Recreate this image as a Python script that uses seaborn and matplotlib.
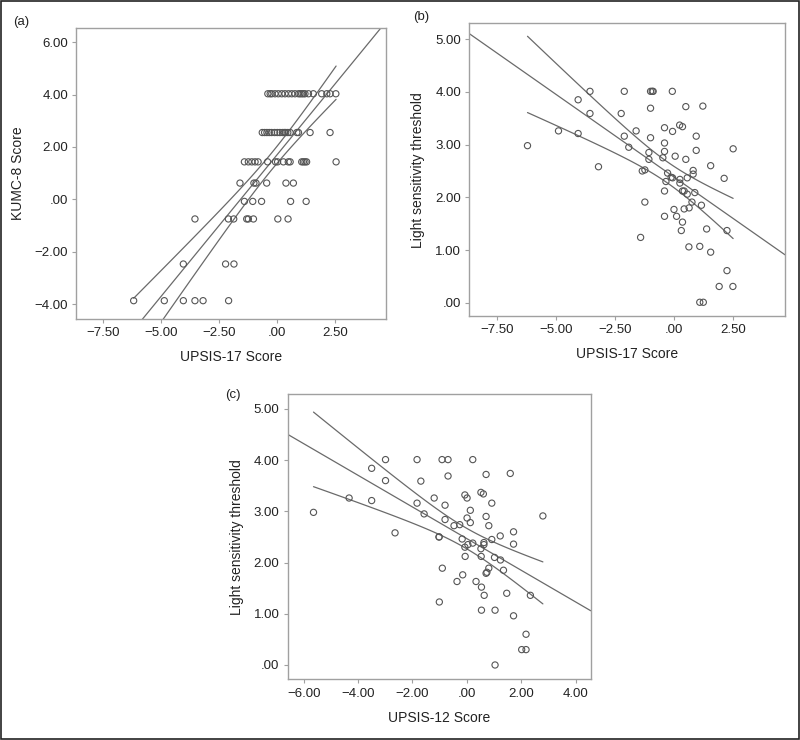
import numpy as np
import pandas as pd
import matplotlib
matplotlib.use("Agg")
import matplotlib.pyplot as plt
import seaborn as sns

# ---------------- data ----------------
# panel (a): UPSIS-17 vs KUMC-8
a_x_400 = [-0.41, -0.31, -0.24, -0.10, 0.04, 0.19, 0.33, 0.48, 0.62, 0.76, 0.91,
           0.98, 1.05, 1.12, 1.19, 1.34, 1.55, 1.91, 2.13, 2.27, 2.52]
a_x_255 = [-0.65, -0.55, -0.45, -0.35, -0.25, -0.12, 0.00, 0.11, 0.22, 0.30, 0.36,
           0.45, 0.55, 0.84, 0.91, 1.41, 2.27]
a_x_143 = [-1.42, -1.25, -1.10, -0.96, -0.83, -0.42, -0.08, 0.01, 0.26, 0.47, 0.55,
           1.05, 1.12, 1.19, 1.26, 2.53]
a_x_062 = [-1.61, -1.01, -0.92, -0.46, 0.37, 0.69]
a_x_m008 = [-1.42, -1.06, -0.68, 0.57, 1.24]
a_x_m075 = [-3.55, -2.11, -1.88, -1.32, -1.25, -1.03, 0.02, 0.46]
a_x_m247 = [-4.05, -2.23, -1.87]
a_x_m387 = [-6.19, -4.87, -4.05, -3.55, -3.20, -2.10]
kumc_levels = [4.03, 2.55, 1.43, 0.62, -0.08, -0.75, -2.47, -3.87]

# panel (b): UPSIS-17 vs light sensitivity threshold
b_x = [-6.20, -4.89, -4.06, -4.06, -3.56, -3.56, -3.20, -2.24, -2.11, -2.11, -1.92,
       -1.61, -1.42, -1.35, -1.24, -1.24, -1.07, -1.07, -1.00, -0.93, -0.89, -1.00,
       -1.00, -0.48, -0.41, -0.41, -0.41, -0.41, -0.41, -0.35, -0.28, -0.13, -0.08,
       -0.07, -0.07, -0.01, 0.04, 0.10, 0.23, 0.24, 0.24, 0.30, 0.35, 0.35, 0.35,
       0.42, 0.42, 0.49, 0.49, 0.55, 0.55, 0.62, 0.63, 0.75, 0.80, 0.80, 0.87, 0.93,
       0.93, 1.08, 1.23, 1.08, 1.15, 1.21, 1.37, 1.54, 1.54, 1.90, 2.11, 2.23, 2.23,
       2.48, 2.49]
b_y = [2.98, 3.26, 3.85, 3.21, 4.01, 3.59, 2.58, 3.59, 4.01, 3.16, 2.95,
       3.26, 1.24, 2.50, 2.52, 1.91, 2.85, 2.72, 4.01, 4.01, 4.01, 3.69,
       3.13, 2.75, 3.32, 3.03, 2.87, 2.12, 1.64, 2.30, 2.46, 2.38, 4.01,
       3.25, 2.37, 1.77, 2.78, 1.64, 3.37, 2.34, 2.27, 1.37, 3.34, 2.12, 1.53,
       2.12, 1.78, 3.72, 2.72, 2.37, 2.06, 1.06, 1.80, 1.91, 2.51, 2.44, 2.09, 3.16,
       2.89, 0.01, 0.01, 1.07, 1.85, 3.73, 1.40, 2.60, 0.96, 0.31, 2.36, 1.37, 0.61,
       0.31, 2.92]

# panel (c): UPSIS-12 vs light sensitivity threshold
c_x = [-5.64, -4.33, -3.50, -3.50, -2.99, -2.99, -2.64, -1.83, -1.83, -1.69, -1.57,
       -1.20, -1.02, -1.02, -1.01, -0.91, -0.90, -0.80, -0.80, -0.69, -0.69, -0.47,
       -0.36, -0.26, -0.17, -0.15, -0.07, -0.07, -0.06, 0.01, 0.01, 0.04, 0.13, 0.13,
       0.22, 0.22, 0.34, 0.52, 0.52, 0.53, 0.54, 0.54, 0.61, 0.63, 0.63, 0.64, 0.71,
       0.71, 0.71, 0.74, 0.81, 0.81, 0.92, 0.92, 1.02, 1.04, 1.04, 1.23, 1.24, 1.35,
       1.47, 1.60, 1.72, 1.72, 1.72, 2.02, 2.18, 2.18, 2.34, 2.80]
c_y = [2.98, 3.26, 3.84, 3.21, 4.01, 3.60, 2.58, 4.01, 3.16, 3.59, 2.95,
       3.26, 2.50, 2.50, 1.23, 4.01, 1.89, 3.12, 2.84, 4.01, 3.69, 2.72,
       1.63, 2.74, 2.46, 1.76, 3.32, 2.30, 2.12, 3.26, 2.87, 2.35, 3.02, 2.78,
       4.01, 2.38, 1.63, 3.37, 2.27, 2.12, 1.07, 1.52, 3.34, 2.39, 2.35, 1.36, 3.72,
       2.90, 1.79, 1.81, 2.72, 1.89, 3.16, 2.45, 2.10, 1.07, 0.00, 2.52, 2.05, 1.85,
       1.40, 3.74, 2.60, 2.36, 0.96, 0.30, 0.60, 0.30, 1.36, 2.91]

# tick labels
a_xticks = [-7.5, -5.0, -2.5, 0.0, 2.5]
a_xticklabels = ["\u22127.50", "\u22125.00", "\u22122.50", ".00", "2.50"]
a_yticks = [-4, -2, 0, 2, 4, 6]
a_yticklabels = ["\u22124.00", "\u22122.00", ".00", "2.00", "4.00", "6.00"]
b_yticks = [0, 1, 2, 3, 4, 5]
b_yticklabels = [".00", "1.00", "2.00", "3.00", "4.00", "5.00"]
c_xticks = [-6, -4, -2, 0, 2, 4]
c_xticklabels = ["\u22126.00", "\u22124.00", "\u22122.00", ".00", "2.00", "4.00"]

# ---------------- styling ----------------
sns.set_theme(style="white")
plt.rcParams["font.family"] = ["Liberation Sans", "DejaVu Sans"]
plt.rcParams["axes.unicode_minus"] = True

GRAY_LINE = "#6a6a6a"
GRAY_FRAME = "#a0a0a0"
PT_EDGE = "#555555"
TXT = "#222222"

fig = plt.figure(figsize=(8.0, 7.4), dpi=100)
fig.patch.set_facecolor("white")

rects = {
    "a": [0.0954, 0.5689, 0.3871, 0.3936],
    "b": [0.5866, 0.5730, 0.3946, 0.3955],
    "c": [0.3596, 0.0820, 0.3788, 0.3855],
}
ax_a = fig.add_axes(rects["a"])
ax_b = fig.add_axes(rects["b"])
ax_c = fig.add_axes(rects["c"])


def fit_lines(ax, x, y, xlim):
    """OLS fit line over the whole axis plus 95% mean-CI curves over the data range."""
    x = np.asarray(x, float); y = np.asarray(y, float)
    n = len(x)
    b, a = np.polyfit(x, y, 1)
    res = y - (a + b * x)
    s = np.sqrt(np.sum(res ** 2) / (n - 2))
    xm = x.mean(); sxx = np.sum((x - xm) ** 2)
    t = 1.995
    xs = np.linspace(x.min(), x.max(), 60)
    se = s * np.sqrt(1.0 / n + (xs - xm) ** 2 / sxx)
    yh = a + b * xs
    xf = np.array(xlim)
    kw = dict(ax=ax, color=GRAY_LINE, lw=0.9, estimator=None, sort=False)
    sns.lineplot(x=xf, y=a + b * xf, **kw)
    sns.lineplot(x=xs, y=yh + t * se, **kw)
    sns.lineplot(x=xs, y=yh - t * se, **kw)


def style_ax(ax, xlim, ylim, xticks, xtl, yticks, ytl, xlabel, ylabel):
    ax.set_xlim(*xlim); ax.set_ylim(*ylim)
    ax.set_xticks(xticks); ax.set_xticklabels(xtl)
    ax.set_yticks(yticks); ax.set_yticklabels(ytl)
    ax.tick_params(axis="both", which="major", direction="out", length=3, width=0.8,
                   color=GRAY_FRAME, labelsize=9.5, labelcolor=TXT, pad=3,
                   bottom=True, left=True)
    for sp in ax.spines.values():
        sp.set_color(GRAY_FRAME); sp.set_linewidth(1.0)
    ax.set_xlabel(xlabel, fontsize=10, color=TXT, labelpad=8)
    ax.set_ylabel(ylabel, fontsize=10, color=TXT, labelpad=7)
    ax.set_facecolor("white")


# panel a
a_x = a_x_400 + a_x_255 + a_x_143 + a_x_062 + a_x_m008 + a_x_m075 + a_x_m247 + a_x_m387
a_y = ([kumc_levels[0]] * len(a_x_400) + [kumc_levels[1]] * len(a_x_255) +
       [kumc_levels[2]] * len(a_x_143) + [kumc_levels[3]] * len(a_x_062) +
       [kumc_levels[4]] * len(a_x_m008) + [kumc_levels[5]] * len(a_x_m075) +
       [kumc_levels[6]] * len(a_x_m247) + [kumc_levels[7]] * len(a_x_m387))

panels = [
    (ax_a, a_x, a_y, (-8.66, 4.68), (-4.57, 6.55), a_xticks, a_xticklabels, a_yticks, a_yticklabels,
     "UPSIS-17 Score", "KUMC-8 Score"),
    (ax_b, b_x, b_y, (-8.66, 4.68), (-0.25, 5.30), a_xticks, a_xticklabels, b_yticks, b_yticklabels,
     "UPSIS-17 Score", "Light sensitivity threshold"),
    (ax_c, c_x, c_y, (-6.59, 4.56), (-0.28, 5.29), c_xticks, c_xticklabels, b_yticks, b_yticklabels,
     "UPSIS-12 Score", "Light sensitivity threshold"),
]

for ax, x, y, xl, yl, xt, xtl, yt, ytl, xlab, ylab in panels:
    df = pd.DataFrame({"x": x, "y": y})
    sns.scatterplot(data=df, x="x", y="y", ax=ax, marker="o", s=20,
                    facecolor="none", edgecolor=PT_EDGE, linewidth=0.8, zorder=3)
    fit_lines(ax, x, y, xl)
    style_ax(ax, xl, yl, xt, xtl, yt, ytl, xlab, ylab)

fig.text(13 / 800, 1 - 22 / 740, "(a)", fontsize=9.5, color=TXT, va="center", ha="left")
fig.text(413 / 800, 1 - 17 / 740, "(b)", fontsize=9.5, color=TXT, va="center", ha="left")
fig.text(225 / 800, 1 - 395 / 740, "(c)", fontsize=9.5, color=TXT, va="center", ha="left")

fig.patches.append(plt.Rectangle((0.001, 0.001), 0.998, 0.998, transform=fig.transFigure,
                                 fill=False, edgecolor="#222222", linewidth=1.2))

fig.savefig("out.png", dpi=100)
